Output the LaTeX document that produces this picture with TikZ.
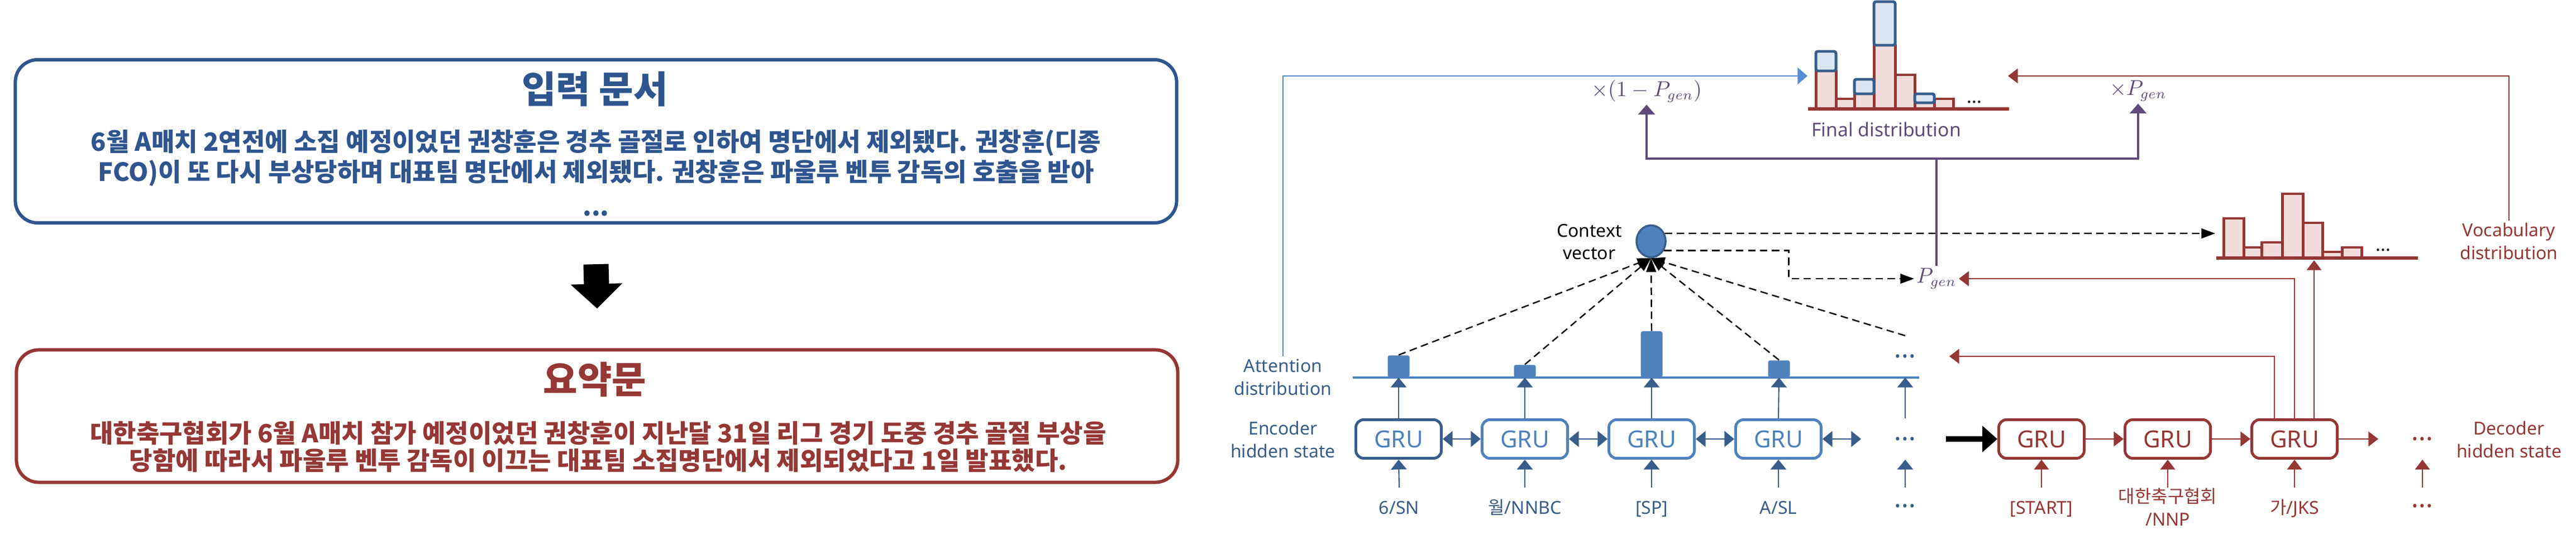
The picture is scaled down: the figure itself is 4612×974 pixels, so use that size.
\documentclass[tikz,border=0pt]{standalone}
\usepackage{fontspec}
\setmainfont{Noto Sans}
\newfontfamily\kr{Noto Sans CJK KR}
\usetikzlibrary{arrows.meta,shapes.geometric}
\definecolor{docblue}{RGB}{47,85,143}
\definecolor{encblue}{RGB}{79,129,189}
\definecolor{encdark}{RGB}{56,93,138}
\definecolor{linkblue}{RGB}{85,142,213}
\definecolor{decred}{RGB}{149,55,53}
\definecolor{mixpurp}{RGB}{96,74,123}
\definecolor{lightred}{RGB}{242,220,219}
\definecolor{lightblue}{RGB}{220,230,242}

\begin{document}
\begin{tikzpicture}[x=0.01cm,y=-0.01cm,
    doc/.style={rounded corners=0.4cm,line width=1.7pt,minimum width=20.78cm,inner sep=0pt},
    doctitle/.style={font=\kr\bfseries\fontsize{19pt}{23pt}\selectfont},
    docbody/.style={font=\kr\bfseries\fontsize{12.8pt}{15.4pt}\selectfont,align=center,anchor=north,inner sep=0pt},
    gru/.style={draw=encblue,text=encblue,line width=1.4pt,rounded corners=4pt,minimum width=1.53cm,minimum height=0.69cm,inner sep=0pt,font=\bfseries\fontsize{12pt}{14pt}\selectfont},
    dgru/.style={gru,draw=decred,text=decred},
    lab/.style={font=\bfseries\fontsize{9.1pt}{11.6pt}\selectfont,align=center,inner sep=1pt},
    tok/.style={font=\fontsize{9.1pt}{11.6pt}\selectfont,anchor=north,inner sep=0pt,text height=13.2pt},
    dotf/.style={font=\bfseries\fontsize{13.5pt}{14pt}\selectfont},
    smalldots/.style={font=\bfseries\fontsize{9.3pt}{11pt}\selectfont,inner sep=0pt},
    mixf/.style={text=mixpurp,inner sep=1pt,font=\fontsize{10.5pt}{12pt}\selectfont},
    abar/.style={fill=encblue,minimum width=0.39cm,anchor=south,inner sep=0pt,rounded corners=1pt},
    encarr/.style={draw=encdark,line width=0.6pt,-{Triangle[length=5pt,width=8pt]}},
    biarr/.style={draw=encdark,line width=0.8pt,{Triangle[length=5pt,width=8pt]}-{Triangle[length=5pt,width=8pt]}},
    decarr/.style={draw=decred,line width=0.6pt,-{Triangle[length=5pt,width=7.5pt]}},
    att/.style={line width=0.7pt,dash pattern=on 3.8pt off 2.3pt,-{Triangle[length=7pt,width=5pt]}},
    purparr/.style={draw=mixpurp,line width=0.9pt,-{Triangle[length=5pt,width=8.5pt]}},
    rbar/.style={draw=decred,fill=lightred,line width=1.4pt},
    bbar/.style={draw=encdark,fill=lightblue,line width=1.4pt,rounded corners=1pt}]
  \useasboundingbox (0,0) rectangle (4612,974);

  % input document -> summary
  \node[doc,draw=docblue,minimum height=2.92cm] (src) at (1067,253) {};
  \node[doctitle,text=docblue] (srct) at (1065,160) {입력 문서};
  \node[docbody,text=docblue] (srcb) at (1067,232) {6월 A매치 2연전에 소집 예정이었던 권창훈은 경추 골절로 인하여 명단에서 제외됐다. 권창훈(디종\\FCO)이 또 다시 부상당하며 대표팀 명단에서 제외됐다. 권창훈은 파울루 벤투 감독의 호출을 받아\\[2pt]...};
  \node[doc,draw=decred,minimum height=2.37cm] (sum) at (1069,745) {};
  \node[doctitle,text=decred] (sumt) at (1065,680) {요약문};
  \node[docbody,text=decred,font=\kr\bfseries\fontsize{12.8pt}{14.2pt}\selectfont] (sumb) at (1071,753) {대한축구협회가 6월 A매치 참가 예정이었던 권창훈이 지난달 31일 리그 경기 도중 경추 골절 부상을\\당함에 따라서 파울루 벤투 감독이 이끄는 대표팀 소집명단에서 제외되었다고 1일 발표했다.};
  \draw[line width=0.45cm,-{Triangle[length=0.44cm,width=0.9cm]}] ([yshift=-0.71cm]src.south) -- ([yshift=0.71cm]sum.north);

  % encoder
  \node[lab,text=encdark] (attn) at (2297,675) {Attention\\distribution};
  \node[lab,text=encdark] (encl) at (2297,787) {Encoder\\hidden state};
  \node[gru,draw=encdark] (e1) at (2504,786) {GRU};
  \node[gru] (e2) at (2730,786) {GRU};
  \node[gru] (e3) at (2957,786) {GRU};
  \node[gru] (e4) at (3184,786) {GRU};
  \node[gru,draw=none,text=encdark,dotf] (e5) at (3411,786) {...};
  \node[tok,text=encdark] (t1) at (2505,873) {6/SN};
  \node[tok,text=encdark] (t2) at (2730,873) {{\kr 월}/NNBC};
  \node[tok,text=encdark] (t3) at (2957,873) {[SP]};
  \node[tok,text=encdark] (t4) at (3184,873) {A/SL};
  \node[tok,text=encdark,dotf,text height=10pt] (t5) at (3411,873) {...};

  \draw[encblue,line width=1.3pt] (2422,676) coordinate (ab0) -- (3436,676) coordinate (ab1);
  \node[abar,minimum height=0.39cm] (a1) at (2504,676) {};
  \node[abar,minimum height=0.22cm] (a2) at (2730,676) {};
  \node[abar,minimum height=0.82cm] (a3) at (2957,676) {};
  \node[abar,minimum height=0.30cm] (a4) at (3185,676) {};
  \node[gru,draw=none,text=encdark,dotf] (a5) at (3411,638) {...};

  \draw[encarr] (e1.north) -- (a1.south);
  \draw[encarr] (e2.north) -- (a2.south);
  \draw[encarr] (e3.north) -- (a3.south);
  \draw[encarr] (e4.north) -- (a4.south);
  \draw[encarr] (e5.north) -- (e5.north |- ab1);
  \draw[encarr] (t1.north) -- (e1.south);
  \draw[encarr] (t2.north) -- (e2.south);
  \draw[encarr] (t3.north) -- (e3.south);
  \draw[encarr] (t4.north) -- (e4.south);
  \draw[encarr] (t5.north) -- (e5.south);
  \draw[biarr] (e1) -- (e2);
  \draw[biarr] (e2) -- (e3);
  \draw[biarr] (e3) -- (e4);
  \draw[biarr] (e4) -- (e5);

  % context vector and p_gen
  \node[ellipse,fill=encblue,draw=encdark,line width=1pt,minimum width=0.52cm,minimum height=0.57cm,inner sep=0pt] (ctx) at (2956,432) {};
  \node[lab,anchor=east] (ctxl) at (2908,433) {Context\\vector};
  \draw[att] (a1.north) -- (ctx.south);
  \draw[att] (a2.north) -- (ctx.south);
  \draw[att] (a3.north) -- (ctx.south);
  \draw[att] (a4.north) -- (ctx.south);
  \draw[att] (a5.north) -- (ctx.south);
  \node[mixf] (pgen) at (3467,499) {$P_{gen}$};
  \coordinate (vocin) at (3966,418);
  \draw[att] (ctx.30) -- (vocin);
  \draw[att] (ctx.-35) -- ++(223,0) |- (pgen.west);

  % final distribution
  \draw[rbar] (3251,195) rectangle (3287,127) (3287,195) rectangle (3320,177) (3320,195) rectangle (3355,168) (3355,195) rectangle (3393,81)
    (3393,195) rectangle (3428,134) (3428,195) rectangle (3463,184) (3463,195) rectangle (3497,177);
  \draw[bbar] (3251,127) rectangle (3287,92) (3320,168) rectangle (3355,142) (3355,81) rectangle (3393,3) (3428,184) rectangle (3463,168);
  \draw[decred,line width=1.5pt] (3237,195) -- (3597,195);
  \node[smalldots] (fdots) at (3535,183) {...};
  \node[lab,text=mixpurp,font=\bfseries\fontsize{9.6pt}{11.6pt}\selectfont] (finl) at (3377,232) {Final distribution};
  \coordinate (finL) at (3236,136);
  \coordinate (finR) at (3595,136);
  \node[mixf] (mix1) at (2948,163) {$\times\bigl(1-P_{gen}\bigr)$};
  \node[mixf] (mix2) at (3828,163) {$\times P_{gen}$};
  \draw[mixpurp,line width=0.9pt] (pgen.north) -- (pgen.north |- 0,284) coordinate (pj);
  \draw[purparr] (pj) -| (mix1.south);
  \draw[purparr] (pj) -| (mix2.south);
  \draw[draw=linkblue,line width=0.6pt,-{Triangle[length=5pt,width=8.5pt]}] (attn.north) |- (finL);

  % vocabulary distribution
  \draw[rbar] (3981,462) rectangle (4017,391) (4017,462) rectangle (4049,443) (4049,462) rectangle (4086,434) (4086,462) rectangle (4123,347)
    (4123,462) rectangle (4158,399) (4158,462) rectangle (4193,451) (4193,462) rectangle (4228,443);
  \draw[decred,line width=1.5pt] (3968,462) -- (4329,462);
  \node[smalldots] (vdots) at (4267,448) {...};
  \node[lab,text=decred] (vlab) at (4492,432) {Vocabulary\\distribution};
  \coordinate (vocb) at (4143,466);
  \draw[decarr] (vlab.north) |- (finR);

  % decoder
  \node[lab,text=decred] (decl) at (4492,787) {Decoder\\hidden state};
  \node[dgru] (d1) at (3655,786) {GRU};
  \node[dgru] (d2) at (3881,786) {GRU};
  \node[dgru] (d3) at (4108,786) {GRU};
  \node[dgru,draw=none,dotf] (d4) at (4337,786) {...};
  \node[tok,text=decred] (k1) at (3655,873) {[START]};
  \node[font=\fontsize{9.1pt}{11.6pt}\selectfont,text=decred,anchor=north,inner sep=0pt,align=center] (k2) at (3881,873) {{\kr 대한축구협회}\\/NNP};
  \node[tok,text=decred] (k3) at (4108,873) {{\kr 가}/JKS};
  \node[tok,text=decred,dotf,text height=10pt] (k4) at (4337,873) {...};
  \draw[line width=2.6pt,-{Triangle[length=0.27cm,width=0.46cm]}] ([xshift=-0.92cm]d1.west) -- (d1.west);
  \draw[decarr] (d1) -- (d2);
  \draw[decarr] (d2) -- (d3);
  \draw[decarr] (d3) -- (d4);
  \draw[decarr] (k1.north) -- (d1.south);
  \draw[decarr] (k2.north) -- (d2.south);
  \draw[decarr] (k3.north) -- (d3.south);
  \draw[decarr] (k4.north) -- (d4.south);
  \draw[decarr] ([xshift=-0.36cm]d3.north) |- (a5.east);
  \draw[decarr] (d3.north) |- (pgen.east);
  \draw[decarr] ([xshift=0.35cm]d3.north) -- (vocb);
\end{tikzpicture}
\end{document}
